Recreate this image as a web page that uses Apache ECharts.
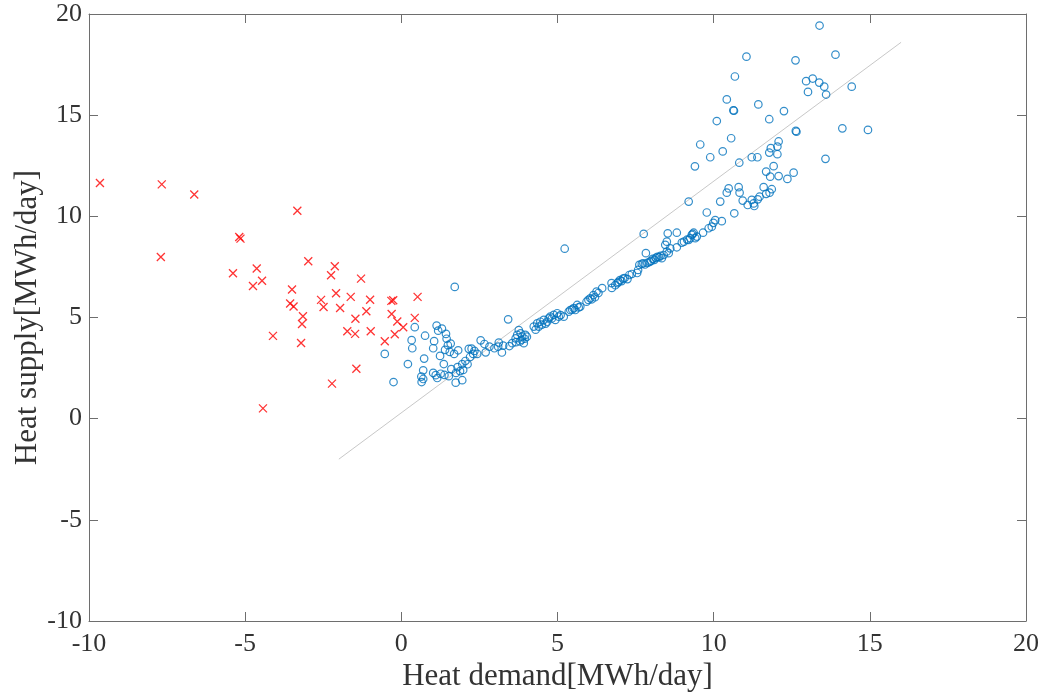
<!DOCTYPE html>
<html>
<head>
<meta charset="utf-8">
<script src="https://cdn.jsdelivr.net/npm/echarts@6/dist/echarts.min.js"></script>
<style>
  html, body { margin: 0; padding: 0; background: #fff; }
  #main { width: 1045px; height: 693px; }
</style>
</head>
<body>
<div id="main"></div>
<script>
// negative-demand days (red crosses): [demand, supply]
const deficitPoints = [
  [-9.65, 11.65], [-7.67, 11.58], [-6.63, 11.08], [-5.19, 8.98], [-5.15, 8.90],
  [-7.70, 7.99], [-5.39, 7.19], [-4.63, 7.42], [-4.46, 6.82], [-4.75, 6.56],
  [-4.11, 4.09], [-4.43, 0.51], [-3.33, 10.28], [-2.98, 7.78], [-2.13, 7.53],
  [-2.25, 7.09], [-1.29, 6.92], [-3.50, 6.38], [-2.09, 6.20], [-2.57, 5.87],
  [-1.62, 6.02], [-1.00, 5.88], [-0.32, 5.82], [-0.26, 5.85], [0.52, 6.02],
  [-3.56, 5.69], [-3.45, 5.54], [-2.49, 5.52], [-1.96, 5.47], [-1.12, 5.31],
  [-0.31, 5.17], [-3.15, 5.06], [-1.47, 4.94], [-0.13, 4.80], [0.43, 4.98],
  [-3.18, 4.68], [0.06, 4.52], [-1.73, 4.32], [-1.48, 4.19], [-0.98, 4.32],
  [-0.21, 4.17], [-0.53, 3.83], [-3.21, 3.74], [-1.44, 2.47], [-2.22, 1.73]
];

// positive-demand days (blue circles): [demand, supply]
const demandPoints = [
  [1.71, 6.51], [0.43, 4.52], [1.13, 4.60], [1.18, 4.35], [1.43, 4.19], [0.76, 4.10],
  [0.33, 3.88], [1.05, 3.83], [1.58, 3.71], [1.49, 3.63], [0.35, 3.48], [1.02, 3.48],
  [1.40, 3.40], [1.82, 3.38], [2.16, 3.45], [1.24, 3.10], [1.69, 3.20], [-0.53, 3.20],
  [0.73, 2.97], [1.36, 2.70], [0.21, 2.70], [2.12, 2.69], [0.70, 2.39], [1.02, 2.26],
  [1.26, 2.22], [1.75, 2.26], [1.98, 2.41], [0.64, 2.08], [0.70, 1.96], [1.15, 2.01],
  [1.38, 2.16], [0.65, 1.81], [-0.25, 1.81], [1.74, 1.78], [1.95, 1.90],
  [1.30, 4.45], [1.45, 3.95], [1.55, 3.30], [1.80, 2.55], [1.95, 2.70], [2.05, 2.85],
  [2.20, 3.05], [1.88, 2.35], [1.10, 2.15], [1.52, 2.10], [1.60, 2.45], [2.30, 3.20],
  [2.25, 3.46], [2.54, 3.87], [2.34, 3.35], [2.43, 3.20], [2.66, 3.69], [2.82, 3.56],
  [2.70, 3.28], [2.98, 3.48], [3.12, 3.76], [3.10, 3.56], [3.26, 3.61], [3.22, 3.27],
  [3.46, 3.59], [3.55, 3.73], [3.67, 3.78], [3.42, 4.91],
  [3.76, 4.38], [3.82, 4.22], [3.87, 4.05], [3.71, 4.14], [3.66, 3.97], [3.97, 4.14],
  [3.92, 3.73], [3.85, 3.90], [3.95, 3.95], [4.02, 4.05], [3.80, 3.82],
  [4.72, 4.96], [4.77, 5.04], [4.88, 5.13], [4.99, 5.21], [5.04, 5.04], [4.93, 4.88],
  [4.67, 4.79], [4.56, 4.88], [4.45, 4.79], [4.35, 4.71], [4.40, 4.55], [4.24, 4.55],
  [4.30, 4.40], [4.50, 4.65], [4.62, 4.70], [4.82, 4.95], [5.20, 5.04], [5.10, 5.12],
  [5.63, 5.62], [5.73, 5.54], [5.52, 5.46], [5.41, 5.37], [5.36, 5.29], [5.57, 5.37],
  [5.47, 5.40], [5.68, 5.50], [5.23, 8.40],
  [5.99, 5.87], [5.93, 5.78], [6.05, 5.95], [6.15, 6.11], [6.25, 6.28], [6.31, 6.21],
  [6.43, 6.45], [6.20, 6.00], [6.10, 5.90],
  [6.73, 6.70], [6.74, 6.46], [6.85, 6.60], [6.95, 6.76], [7.00, 6.85], [7.05, 6.80],
  [7.10, 6.92], [7.15, 6.95], [7.24, 6.90], [6.92, 6.70], [7.30, 7.10], [7.38, 7.15],
  [7.55, 7.20], [7.58, 7.35], [7.62, 7.60], [7.70, 7.65], [7.75, 7.68], [7.80, 7.62],
  [7.88, 7.70], [7.83, 8.18], [7.76, 9.13], [7.95, 7.75], [8.00, 7.80],
  [8.05, 7.90], [8.15, 7.95], [8.25, 7.98], [8.34, 7.93], [8.40, 8.09], [8.56, 8.18],
  [8.50, 8.26], [8.61, 8.42], [8.45, 8.59], [8.50, 8.75], [8.20, 8.00], [8.30, 8.05],
  [8.10, 7.85],
  [8.82, 8.47], [8.98, 8.70], [9.20, 8.83], [9.25, 8.92], [9.41, 8.92], [9.46, 9.00],
  [9.30, 9.08], [9.36, 9.19], [9.66, 9.19], [9.84, 9.41], [9.94, 9.49], [8.53, 9.16],
  [8.82, 9.19], [9.33, 9.13], [9.05, 8.75], [9.15, 8.85],
  [9.99, 9.68], [10.05, 9.81], [10.26, 9.76], [9.78, 10.19], [10.66, 10.15], [9.20, 10.73],
  [10.21, 10.73], [10.48, 11.38], [10.42, 11.17], [10.80, 11.44], [10.83, 11.17],
  [10.93, 10.78], [11.09, 10.56], [11.22, 10.81], [11.28, 10.64], [11.30, 10.51],
  [11.41, 10.84], [11.47, 10.97], [11.68, 11.11], [11.79, 11.17], [11.86, 11.34],
  [11.60, 11.44],
  [11.68, 12.21], [11.81, 11.96], [12.08, 11.99], [12.36, 11.85], [12.56, 12.16],
  [11.92, 12.48], [12.04, 13.07], [11.78, 13.15], [11.83, 13.37], [12.04, 13.45],
  [12.08, 13.70], [11.22, 12.92], [11.40, 12.92], [13.58, 12.84],
  [10.82, 12.65], [9.40, 12.47], [9.89, 12.92], [10.29, 13.21], [9.57, 13.55],
  [10.56, 13.86], [10.10, 14.71], [11.78, 14.80], [12.63, 14.22], [12.65, 14.18],
  [14.12, 14.35], [14.94, 14.27], [10.63, 15.24], [10.65, 15.22], [10.42, 15.78],
  [11.43, 15.53], [12.25, 15.20], [13.02, 16.15], [13.60, 16.02], [14.42, 16.41],
  [12.96, 16.68], [13.17, 16.81], [13.38, 16.61], [13.54, 16.41], [10.68, 16.91],
  [11.05, 17.89], [12.62, 17.71], [13.90, 17.99], [13.39, 19.43]
];

// reference line end points
const refLine = [[-2, -2], [16, 18.6]];

const axisMin = -10;
const axisMax = 20;
const tickStep = 5;

const font = "'Liberation Serif', 'DejaVu Serif', serif";
const axisGray = '#6e6e6e';
const textColor = '#333333';

const chart = echarts.init(document.getElementById('main'));

const baseAxis = {
  min: axisMin,
  max: axisMax,
  interval: tickStep,
  splitLine: { show: false },
  axisLine: { show: true, onZero: false, lineStyle: { color: axisGray, width: 1 } },
  axisTick: { show: true, inside: true, length: 9, lineStyle: { color: axisGray } }
};

chart.setOption({
  animation: false,
  backgroundColor: '#ffffff',
  grid: { left: 89, right: 19, top: 14, bottom: 72, containLabel: false, outerBoundsMode: 'none' },
  xAxis: [
    Object.assign({}, baseAxis, {
      type: 'value',
      position: 'bottom',
      name: 'Heat demand[MWh/day]',
      nameLocation: 'middle',
      nameGap: 40,
      nameMoveOverlap: false,
      nameTextStyle: { fontFamily: font, fontSize: 31, color: textColor },
      axisLabel: { fontFamily: font, fontSize: 26, color: textColor, margin: 10 }
    }),
    Object.assign({}, baseAxis, {
      type: 'value',
      position: 'top',
      axisLabel: { show: false }
    })
  ],
  yAxis: [
    Object.assign({}, baseAxis, {
      type: 'value',
      position: 'left',
      name: 'Heat supply[MWh/day]',
      nameLocation: 'middle',
      nameRotate: 90,
      nameGap: 46,
      nameMoveOverlap: false,
      nameTextStyle: { fontFamily: font, fontSize: 31, color: textColor },
      axisLabel: { fontFamily: font, fontSize: 26, color: textColor, margin: 7 }
    }),
    Object.assign({}, baseAxis, {
      type: 'value',
      position: 'right',
      axisLabel: { show: false }
    })
  ],
  series: [
    {
      type: 'line',
      data: refLine,
      showSymbol: false,
      symbol: 'none',
      lineStyle: { color: '#c8c8c8', width: 1 },
      z: 1
    },
    {
      type: 'scatter',
      data: deficitPoints,
      symbol: 'path://M0,0L10,10M10,0L0,10',
      symbolSize: 8,
      itemStyle: { color: 'transparent', borderColor: '#ff0000', borderWidth: 1.3 },
      z: 3
    },
    {
      type: 'scatter',
      data: demandPoints,
      symbol: 'circle',
      symbolSize: 7.5,
      itemStyle: { color: 'transparent', borderColor: '#0072bd', borderWidth: 1.2 },
      z: 2
    }
  ]
});
</script>
</body>
</html>
